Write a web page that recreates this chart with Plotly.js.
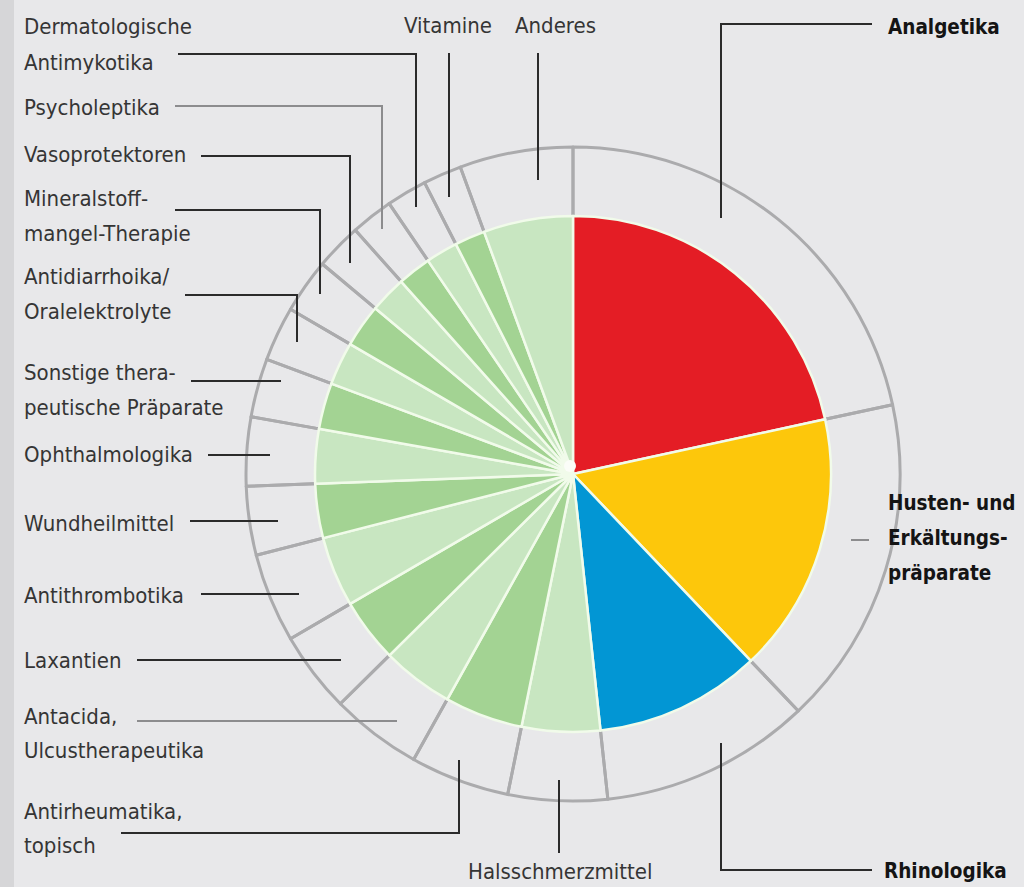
<!DOCTYPE html>
<html>
<head>
<meta charset="utf-8">
<script src="https://cdn.plot.ly/plotly-3.0.1.min.js"></script>
<style>html,body{margin:0;padding:0;background:#e8e8ea;}#chart{width:1024px;height:887px;}</style>
</head>
<body>
<div id="chart"></div>
<script>
// ---- data (shares in %) ----
const categories = ['Analgetika', 'Husten- und Erkältungspräparate', 'Rhinologika', 'Halsschmerzmittel',
  'Antirheumatika, topisch', 'Antacida, Ulcustherapeutika', 'Laxantien', 'Antithrombotika', 'Wundheilmittel',
  'Ophthalmologika', 'Sonstige therapeutische Präparate', 'Antidiarrhoika/Oralelektrolyte',
  'Mineralstoffmangel-Therapie', 'Vasoprotektoren', 'Psycholeptika', 'Dermatologische Antimykotika',
  'Vitamine', 'Anderes'];
const values = [21.6, 16.3, 10.4, 4.9, 4.9, 4.5, 4.0, 4.4, 3.4, 3.4, 2.9, 2.7, 2.7, 2.3, 2.1, 2.0, 1.9, 5.6];
const sliceColors = ['#e41d25', '#fdc70b', '#0296d4', '#c8e6c1', '#a3d393', '#c8e6c1', '#a3d393', '#c8e6c1',
  '#a3d393', '#c8e6c1', '#a3d393', '#c8e6c1', '#a3d393', '#c8e6c1', '#a3d393', '#c8e6c1', '#a3d393', '#c8e6c1'];
// label text lines as printed
const labelLines = {
  'Dermatologische Antimykotika': ['Dermatologische', 'Antimykotika'],
  'Psycholeptika': ['Psycholeptika'],
  'Vasoprotektoren': ['Vasoprotektoren'],
  'Mineralstoffmangel-Therapie': ['Mineralstoff-', 'mangel-Therapie'],
  'Antidiarrhoika/Oralelektrolyte': ['Antidiarrhoika/', 'Oralelektrolyte'],
  'Sonstige therapeutische Präparate': ['Sonstige thera-', 'peutische Präparate'],
  'Ophthalmologika': ['Ophthalmologika'],
  'Wundheilmittel': ['Wundheilmittel'],
  'Antithrombotika': ['Antithrombotika'],
  'Laxantien': ['Laxantien'],
  'Antacida, Ulcustherapeutika': ['Antacida,', 'Ulcustherapeutika'],
  'Antirheumatika, topisch': ['Antirheumatika,', 'topisch'],
  'Halsschmerzmittel': ['Halsschmerzmittel'],
  'Vitamine': ['Vitamine'],
  'Anderes': ['Anderes'],
  'Analgetika': ['Analgetika'],
  'Husten- und Erkältungspräparate': ['Husten- und', 'Erkältungs-', 'präparate'],
  'Rhinologika': ['Rhinologika']
};
const boldCats = ['Analgetika', 'Husten- und Erkältungspräparate', 'Rhinologika'];

// ---- layout helpers (pixel -> paper) ----
const W = 1024, H = 887;
const px = x => x / W;
const py = y => (H - y) / H;
const CX = 573, CY = 474, R_PIE = 258, R_RING = 327;

// label placement: [x, anchor, first line y, line step, leader path]
const place = {
  'Dermatologische Antimykotika': [22, 'left', 27, 35, 'M178,54 H416 V207'],
  'Psycholeptika': [22, 'left', 107, 0, 'M175,106 H382 V229'],
  'Vasoprotektoren': [22, 'left', 155, 0, 'M201,156 H350 V263'],
  'Mineralstoffmangel-Therapie': [22, 'left', 198, 35, 'M175,210 H320 V294'],
  'Antidiarrhoika/Oralelektrolyte': [22, 'left', 276, 35, 'M185,295 H297 V342'],
  'Sonstige therapeutische Präparate': [22, 'left', 373, 34, 'M191,381 H281'],
  'Ophthalmologika': [22, 'left', 455, 0, 'M208,455 H270'],
  'Wundheilmittel': [22, 'left', 523, 0, 'M190,521 H278'],
  'Antithrombotika': [22, 'left', 595, 0, 'M201,594 H299'],
  'Laxantien': [22, 'left', 661, 0, 'M137,660 H341'],
  'Antacida, Ulcustherapeutika': [22, 'left', 716, 34, 'M137,721 H397'],
  'Antirheumatika, topisch': [22, 'left', 811, 34, 'M121,833 H459 V760'],
  'Halsschmerzmittel': [560, 'center', 871, 0, 'M559,780 V853'],
  'Vitamine': [448, 'center', 26, 0, 'M449,53 V197'],
  'Anderes': [555, 'center', 26, 0, 'M538,53 V180'],
  'Analgetika': [886, 'left', 27, 0, 'M721,218 V24 H872'],
  'Husten- und Erkältungspräparate': [886, 'left', 503, 35, 'M851,540 H869'],
  'Rhinologika': [882, 'left', 871, 0, 'M721,743 V870 H872']
};
const grayLeaders = ['Antacida, Ulcustherapeutika', 'Husten- und Erkältungspräparate', 'Psycholeptika'];

const FONT = '"Liberation Sans Narrow", "DejaVu Sans Condensed", "Liberation Sans", sans-serif';

const annotations = [];
const shapes = [{type: 'rect', xref: 'paper', yref: 'paper', x0: 0, x1: px(14), y0: 0, y1: 1,
  fillcolor: '#d6d6d8', line: {width: 0}, layer: 'below'}];

categories.forEach(cat => {
  const p = place[cat];
  const bold = boldCats.includes(cat);
  labelLines[cat].forEach((t, i) => {
    annotations.push({
      xref: 'paper', yref: 'paper', x: px(p[0]), y: py(p[2] + i * p[3]),
      xanchor: p[1], yanchor: 'middle', showarrow: false,
      text: bold ? '<b>' + t + '</b>' : t,
      font: {family: FONT, size: bold ? 20.5 : 22, color: bold ? '#141414' : '#353535'}
    });
  });
  let d = '', cx = 0, cy = 0;
  p[4].match(/[MHV][^MHV]*/g).forEach(seg => {
    const c = seg[0]; const nums = seg.slice(1).trim().split(/[ ,]+/).map(Number);
    if (c === 'M') { cx = nums[0]; cy = nums[1]; }
    if (c === 'H') { cx = nums[0]; }
    if (c === 'V') { cy = nums[0]; }
    d += (c === 'M' ? 'M' : 'L') + px(cx) + ',' + py(cy) + ' ';
  });
  shapes.push({type: 'path', xref: 'paper', yref: 'paper', path: d.trim(),
    line: {color: grayLeaders.includes(cat) ? '#8c8c8e' : '#2b2b2b', width: 2}});
});

// small white spot where the slice borders converge
shapes.push({type: 'circle', xref: 'paper', yref: 'paper',
  x0: px(CX - 9), x1: px(CX + 3), y0: py(CY - 2), y1: py(CY - 14),
  fillcolor: '#fbfdf8', line: {width: 0}, layer: 'above'});

const ringTrace = {
  type: 'pie', values: values, labels: categories, sort: false, direction: 'clockwise', rotation: 0,
  hole: (R_PIE - 6) / R_RING, textinfo: 'none', hoverinfo: 'skip', showlegend: false,
  marker: {colors: categories.map(() => 'rgba(0,0,0,0)'), line: {color: '#ababad', width: 3}},
  domain: {x: [px(CX - R_RING), px(CX + R_RING)], y: [py(CY + R_RING), py(CY - R_RING)]}
};
const pieTrace = {
  type: 'pie', values: values, labels: categories, sort: false, direction: 'clockwise', rotation: 0,
  textinfo: 'none', hoverinfo: 'label+percent', showlegend: false,
  marker: {colors: sliceColors, line: {color: '#f1fbea', width: 2.5}},
  domain: {x: [px(CX - R_PIE), px(CX + R_PIE)], y: [py(CY + R_PIE), py(CY - R_PIE)]}
};

Plotly.newPlot('chart', [ringTrace, pieTrace], {
  width: W, height: H, margin: {l: 0, r: 0, t: 0, b: 0},
  paper_bgcolor: '#e8e8ea', plot_bgcolor: '#e8e8ea',
  annotations: annotations, shapes: shapes
}, {displayModeBar: false});
</script>
</body>
</html>
